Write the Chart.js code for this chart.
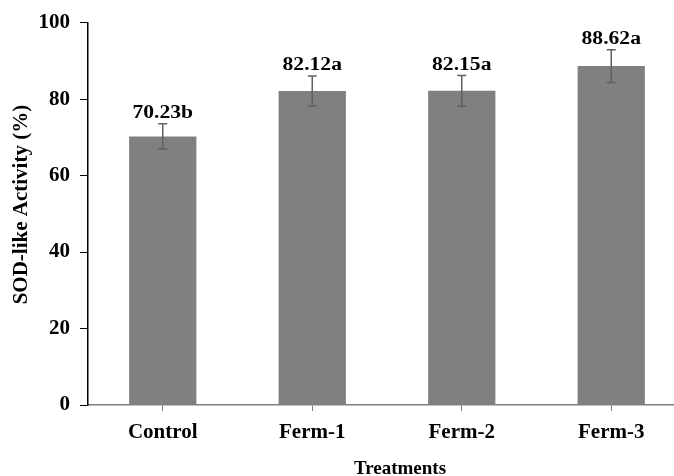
<!DOCTYPE html>
<html>
<head>
<meta charset="utf-8">
<script src="https://cdn.jsdelivr.net/npm/chart.js@4"></script>
<style>
  html, body { margin: 0; padding: 0; background: #fff; overflow: hidden; }
  #wrap { width: 674px; height: 476px; overflow: hidden; }
  canvas { display: block; }
</style>
</head>
<body>
<div id="wrap"><canvas id="c" width="686" height="476"></canvas></div>
<script>
// Treatments and their mean SOD-like activity
const treatments = ["Control", "Ferm-1", "Ferm-2", "Ferm-3"];
const activity = [70.23, 82.12, 82.15, 88.62];
const errors = [3.3, 3.9, 4.0, 4.3];
const letters = ["b", "a", "a", "a"];
const yTicks = [0, 20, 40, 60, 80, 100];
const xTitle = "Treatments";
const yTitle = "SOD-like Activity (%)";

const serif = '"Liberation Serif", "Times New Roman", serif';

// Draws the error bars, the value labels over each bar and the axis titles
const errorBarsAndLabels = {
  id: 'errorBarsAndLabels',
  afterDatasetsDraw(chart) {
    const { ctx, chartArea, scales: { x, y } } = chart;
    ctx.save();
    activity.forEach((v, i) => {
      const cx = x.getPixelForValue(i);
      const top = y.getPixelForValue(v + errors[i]);
      const bot = y.getPixelForValue(v - errors[i]);
      ctx.strokeStyle = '#606060';
      ctx.lineWidth = 1.5;
      ctx.beginPath();
      ctx.moveTo(cx, top); ctx.lineTo(cx, bot);
      ctx.moveTo(cx - 4.5, top); ctx.lineTo(cx + 4.5, top);
      ctx.moveTo(cx - 4.5, bot); ctx.lineTo(cx + 4.5, bot);
      ctx.stroke();
      // value label, slightly widened like the axis lettering
      ctx.fillStyle = '#000';
      ctx.font = 'bold 18px ' + serif;
      ctx.textAlign = 'center';
      ctx.textBaseline = 'alphabetic';
      ctx.translate(cx, top - 6);
      ctx.scale(1.2, 1);
      ctx.fillText(v.toFixed(2) + letters[i], 0, 0);
      ctx.setTransform(1, 0, 0, 1, 0, 0);
    });

    // axis titles
    ctx.fillStyle = '#000';
    ctx.textAlign = 'center';
    ctx.textBaseline = 'middle';
    ctx.font = 'bold 19px ' + serif;
    ctx.fillText(xTitle, chartArea.left + 312, 469);

    ctx.font = 'bold 21px ' + serif;
    ctx.translate(22, chartArea.top + 182);
    ctx.rotate(-Math.PI / 2);
    ctx.fillText(yTitle, 0, 0);
    ctx.restore();
  }
};

new Chart(document.getElementById('c'), {
  type: 'bar',
  data: {
    labels: treatments,
    datasets: [{
      data: activity,
      backgroundColor: '#808080',
      borderWidth: 0,
      categoryPercentage: 1,
      barPercentage: 0.45
    }]
  },
  options: {
    responsive: false,
    animation: false,
    layout: { padding: { top: 21, left: 0, right: 0, bottom: 0 } },
    plugins: { legend: { display: false }, tooltip: { enabled: false } },
    scales: {
      x: {
        grid: {
          display: true, drawOnChartArea: false, drawTicks: true,
          tickLength: 6, color: '#808080', offset: false
        },
        border: { color: '#808080', width: 1.5 },
        ticks: {
          color: '#000', padding: 9,
          font: { family: serif, size: 21, weight: 'bold' }
        },
        afterFit(s) { s.height = 71; }
      },
      y: {
        min: 0, max: 100,
        afterBuildTicks(s) { s.ticks = yTicks.map(v => ({ value: v })); },
        grid: {
          display: true, drawOnChartArea: false, drawTicks: true,
          tickLength: 8, color: '#000'
        },
        border: { color: '#000', width: 1.5 },
        ticks: {
          color: '#000', padding: 10,
          font: { family: serif, size: 21, weight: 'bold' }
        },
        afterFit(s) { s.width = 88; }
      }
    }
  },
  plugins: [errorBarsAndLabels]
});
</script>
</body>
</html>
